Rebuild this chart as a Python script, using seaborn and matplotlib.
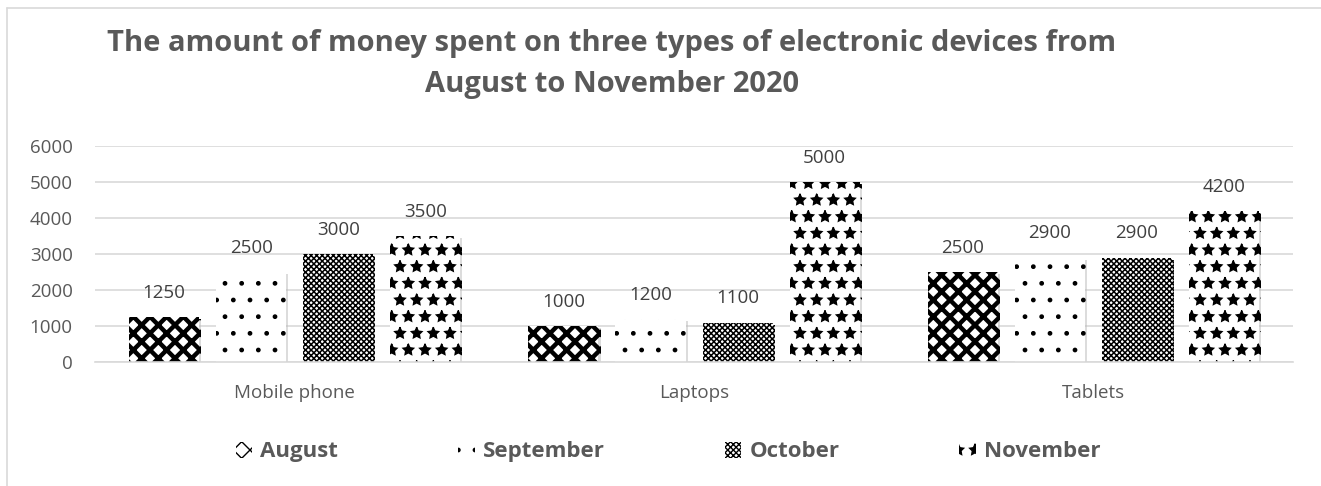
import matplotlib.pyplot as plt
import matplotlib.patheffects as pe
from matplotlib.lines import Line2D
from matplotlib.patches import Patch
import seaborn as sns
import pandas as pd

devices = ['Mobile phone', 'Laptops', 'Tablets']
months = ['August', 'September', 'October', 'November']
august = [1250, 1000, 2500]
september = [2500, 1200, 2900]
october = [3000, 1100, 2900]
november = [3500, 5000, 4200]
hatches = ['xx', '.', 'xxxxxx', '*']
hatch_lw = [3.2, 1.0, 1.1, 1.0]

rows = []
for m, vals in zip(months, [august, september, october, november]):
    for d, v in zip(devices, vals):
        rows.append({'device': d, 'month': m, 'value': v})
df = pd.DataFrame(rows)

sns.set_style('white')
plt.rcParams['font.family'] = ['Open Sans', 'DejaVu Sans']
plt.rcParams['hatch.linewidth'] = 1.0
plt.rcParams['hatch.color'] = 'black'

grey = '#595959'
fig = plt.figure(figsize=(13.21, 4.86), dpi=100)
ax = fig.add_axes([0.0719, 0.255, 0.907, 0.444])

sns.barplot(data=df, x='device', y='value', hue='month', order=devices,
            hue_order=months, palette=['white'] * 4, width=0.872, gap=0.195,
            edgecolor='black', linewidth=0, legend=False, ax=ax)

shadow = [pe.SimplePatchShadow(offset=(1.5, -1.5), shadow_rgbFace='#bbbbbb', alpha=0.5), pe.Normal()]
for cont, h, lw in zip(ax.containers, hatches, hatch_lw):
    for bar in cont:
        bar.set_hatch(h)
        if hasattr(bar, 'set_hatch_linewidth'):
            bar.set_hatch_linewidth(lw)
        bar.set_path_effects(shadow)
    ax.bar_label(cont, padding=11, fontsize=13.5, color='#404040')

ax.set_xlim(-0.5, 2.5)
ax.set_ylim(0, 6000)
ax.set_yticks(range(0, 6001, 1000))
ax.grid(axis='y', color='#d9d9d9', linewidth=1.2)
ax.set_axisbelow(True)
for s in ['top', 'right', 'left']:
    ax.spines[s].set_visible(False)
ax.spines['bottom'].set_color('#d9d9d9')
ax.spines['bottom'].set_linewidth(1.2)
ax.tick_params(axis='both', length=0, labelsize=13.5, labelcolor=grey)
ax.tick_params(axis='x', pad=16)
ax.tick_params(axis='y', pad=16)
ax.set_xlabel('')
ax.set_ylabel('')

fig.text(0.463, 0.868, 'The amount of money spent on three types of electronic devices from\nAugust to November 2020',
         ha='center', va='center', fontsize=21, fontweight='bold', color=grey, linespacing=1.55)

handles = []
for h, lw in zip(hatches, hatch_lw):
    p = Patch(facecolor='white', edgecolor='black', linewidth=0, hatch=h)
    if hasattr(p, 'set_hatch_linewidth'):
        p.set_hatch_linewidth(lw)
    handles.append(p)
fig.legend(handles, months, loc='center', bbox_to_anchor=(0.5057, 0.07), ncol=4, frameon=False,
           prop={'weight': 'bold', 'size': 16}, labelcolor=grey, handlelength=0.75, handleheight=0.75,
           handletextpad=0.36, columnspacing=5.4)

# chart border (left and top)
fig.add_artist(Line2D([0.0055, 0.0055], [0, 0.984], color='#d9d9d9', linewidth=1.2, transform=fig.transFigure))
fig.add_artist(Line2D([0.0055, 1], [0.984, 0.984], color='#d9d9d9', linewidth=1.2, transform=fig.transFigure))

fig.savefig('out.png', dpi=100)
